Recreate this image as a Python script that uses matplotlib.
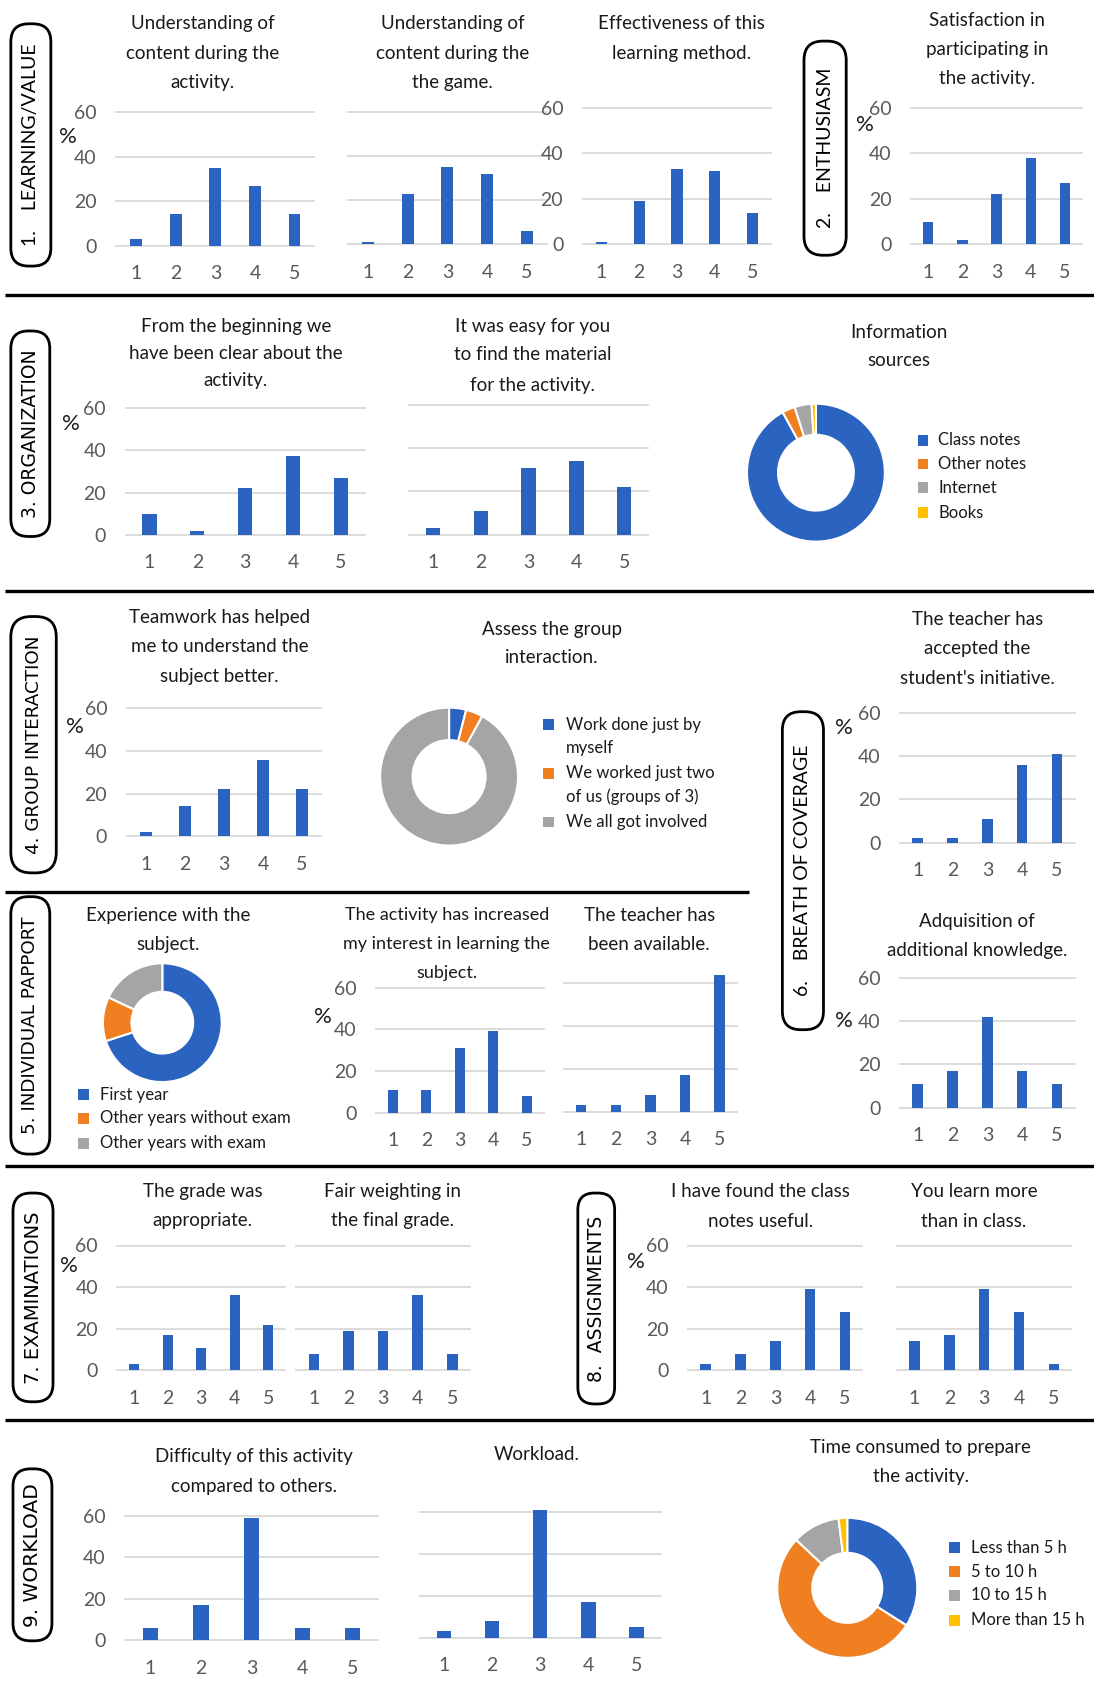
import matplotlib
matplotlib.use('Agg')
import matplotlib.pyplot as plt
from matplotlib.patches import FancyBboxPatch, Rectangle

plt.rcParams['font.family'] = ['Lato', 'DejaVu Sans']

# ---------------- data ----------------
categories = ['1', '2', '3', '4', '5']
understanding_activity = [3, 14, 35, 27, 14]
understanding_game = [1, 23, 35, 32, 6]
effectiveness = [1, 19, 33, 32, 14]
satisfaction = [10, 2, 22, 38, 27]
clear_from_beginning = [10, 2, 22, 37, 27]
easy_material = [3, 11, 31, 34, 22]
teamwork = [2, 14, 22, 36, 22]
teacher_initiative = [2, 2, 11, 36, 41]
interest_increased = [11, 11, 31, 39, 8]
teacher_available = [3, 3, 8, 17, 64]
additional_knowledge = [11, 17, 42, 17, 11]
grade_appropriate = [3, 17, 11, 36, 22]
fair_weighting = [8, 19, 19, 36, 8]
notes_useful = [3, 8, 14, 39, 28]
learn_more = [14, 17, 39, 28, 3]
difficulty = [6, 17, 59, 6, 6]
workload = [3, 8, 61, 17, 5]
y_ticks = [0, 20, 40, 60]

info_labels = ['Class notes', 'Other notes', 'Internet', 'Books']
info_values = [92, 3, 4, 1]
group_labels = ['Work done just by\nmyself', 'We worked just two\nof us (groups of 3)', 'We all got involved']
group_values = [4, 4, 92]
experience_labels = ['First year', 'Other years without exam', 'Other years with exam']
experience_values = [70, 12, 18]
time_labels = ['Less than 5 h', '5 to 10 h', '10 to 15 h', 'More than 15 h']
time_values = [34, 53, 11, 2]

# ---------------- style ----------------
BLUE = '#2B63C1'
ORANGE = '#F07F22'
GRAY = '#A5A5A5'
YELLOW = '#FFC000'
TXT = '#1a1a1a'
TICK = '#595959'
GRID = '#D9D9D9'
donut_colors = [BLUE, ORANGE, GRAY, YELLOW]

W, H = 1011, 1568
fig = plt.figure(figsize=(10.94, 16.96), dpi=100)
fig.patch.set_facecolor('white')

ov = fig.add_axes([0, 0, 1, 1])
ov.set_xlim(0, W)
ov.set_ylim(H, 0)
ov.axis('off')


def fx(x):
    return x / W


def fy(y):
    return 1 - y / H


def title(lines, cx, ys, fs=13.5):
    for line, y in zip(lines, ys):
        ov.text(cx, y, line, ha='center', va='center', fontsize=fs, color=TXT)


def bar_panel(vals, left, right, y60, y0, show_y=True, pct=None):
    ax = fig.add_axes([fx(left), fy(y0), (right - left) / W, (y0 - y60) / H])
    xs = list(range(1, 6))
    ax.bar(xs, vals, width=0.3, color=BLUE, zorder=3, clip_on=False)
    ax.set_xlim(0.5, 5.5)
    ax.set_ylim(0, 60)
    ax.set_yticks(y_ticks)
    ax.set_xticks(xs)
    ax.set_xticklabels(categories)
    for v in y_ticks:
        ax.axhline(v, color=GRID, lw=1.3, zorder=1, clip_on=False)
    for s in ax.spines.values():
        s.set_visible(False)
    ax.tick_params(length=0, labelsize=14, colors=TICK, pad=14)
    if not show_y:
        ax.tick_params(axis='y', labelleft=False)
    ax.patch.set_alpha(0)
    if pct is not None:
        ov.text(pct[0], pct[1], '%', ha='center', va='center', fontsize=16, color=TXT)
    return ax


def donut(vals, cx, cy, r, width):
    ax = fig.add_axes([fx(cx - r), fy(cy + r), 2 * r / W, 2 * r / H])
    wedges, _ = ax.pie(vals, colors=donut_colors[:len(vals)], startangle=90, counterclock=False,
                       wedgeprops=dict(width=width, edgecolor='white', linewidth=1.5))
    ax.set_xlim(-1.02, 1.02)
    ax.set_ylim(-1.02, 1.02)
    ax.axis('off')
    return wedges


def legend(wedges, labels, sx, tx, ys, fs=12, pitch=22):
    for w, lab, y in zip(wedges, labels, ys):
        ov.add_patch(Rectangle((sx - 5, y - 5), 10, 10, color=w.get_facecolor(), lw=0))
        for k, part in enumerate(lab.split('\n')):
            ov.text(tx, y + k * pitch, part, ha='left', va='center', fontsize=fs, color=TXT)


# ---------------- section boxes ----------------
sections = [
    ('1.    LEARNING/VALUE', 10, 47, 22, 246, 'Lato', 14),
    ('2.    ENTHUSIASM', 743, 782, 38, 236, 'Lato', 14),
    ('3. ORGANIZATION', 10, 46, 306, 496, 'DejaVu Sans', 13.5),
    ('4. GROUP INTERACTION', 10, 52, 570, 807, 'DejaVu Sans', 13.2),
    ('5. INDIVIDUAL PAPPORT', 10, 46, 829, 1067, 'DejaVu Sans', 13.2),
    ('6.    BREATH OF COVERAGE', 723, 761, 658, 952, 'Lato', 14),
    ('7. EXAMINATIONS', 12, 49, 1103, 1296, 'DejaVu Sans', 14),
    ('8.  ASSIGNMENTS', 534, 568, 1103, 1298, 'DejaVu Sans', 13.5),
    ('9. WORKLOAD', 12, 48, 1358, 1517, 'DejaVu Sans', 14.5),
]
for lab, x0, x1, y0, y1, fam, fs in sections:
    w = x1 - x0
    ov.add_patch(FancyBboxPatch((x0, y0), w, y1 - y0,
                                boxstyle='round,pad=0,rounding_size=%f' % (w * 0.45),
                                fc='white', ec='black', lw=2.0))
    ov.text((x0 + x1) / 2, (y0 + y1) / 2, lab, rotation=90, ha='center', va='center',
            fontsize=fs, family=fam, color='black')

# ---------------- separators ----------------
for y, x1 in [(273, 1011), (546, 1011), (825, 692), (1078, 1011), (1313, 1011)]:
    ov.plot([5, x1], [y, y], color='black', lw=2.4, solid_capstyle='butt')

# ---------------- row 1 ----------------
title(['Understanding of', 'content during the', 'activity.'], 187, [22, 49, 76])
bar_panel(understanding_activity, 107.5, 290.5, 104, 227, True, (63, 127))
title(['Understanding of', 'content during the', 'the game.'], 418, [22, 49, 76])
bar_panel(understanding_game, 321.5, 505.5, 103.5, 226, False)
title(['Effectiveness of this', 'learning method.'], 630, [22, 49])
bar_panel(effectiveness, 538.5, 712.5, 99.5, 226, True)
title(['Satisfaction in', 'participating in', 'the activity.'], 912, [19, 46, 73])
bar_panel(satisfaction, 842, 1000, 99.5, 226, True, (799, 116))

# ---------------- row 2 ----------------
title(['From the beginning we', 'have been clear about the', 'activity.'], 218, [302, 327, 352])
bar_panel(clear_from_beginning, 116, 337, 377, 494.5, True, (66, 392))
title(['It was easy for you', 'to find the material', 'for the activity.'], 492, [302, 328, 356])
bar_panel(easy_material, 378, 599, 374, 494.5, False)
title(['Information', 'sources'], 831, [307, 333])
w = donut(info_values, 754, 437, 65, 0.45)
legend(w, info_labels, 853, 867, [407, 429, 451, 474])

# ---------------- row 3 ----------------
title(['Teamwork has helped', 'me to understand the', 'subject better.'], 203, [571, 598, 625])
bar_panel(teamwork, 117, 297, 655, 773, True, (69, 672))
title(['Assess the group', 'interaction.'], 510, [582, 608])
w = donut(group_values, 415, 718, 65, 0.47)
legend(w, group_labels, 507, 523, [670, 715, 760], fs=12, pitch=22)
title(['The teacher has', 'accepted the', "student's initiative."], 903, [573, 600, 627])
bar_panel(teacher_initiative, 832, 993, 659, 779, True, (780, 673))

# ---------------- row 4 ----------------
title(['Experience with the', 'subject.'], 155, [846, 873])
w = donut(experience_values, 150, 945.5, 56, 0.48)
legend(w, experience_labels, 77, 92, [1012, 1034, 1057])
title(['The activity has increased', 'my interest in learning the', 'subject.'], 413, [846, 873, 900], fs=13)
bar_panel(interest_increased, 347.5, 502.5, 913, 1029, True, (298, 940))
title(['The teacher has', 'been available.'], 600, [846, 873])
bar_panel(teacher_available, 521, 681, 909, 1028, False)
title(['Adquisition of', 'additional knowledge.'], 903, [852, 879])
bar_panel(additional_knowledge, 832, 993, 904, 1024, True, (780, 944))

# ---------------- row 5 ----------------
title(['The grade was', 'appropriate.'], 187, [1102, 1128])
bar_panel(grade_appropriate, 108.5, 263.5, 1151.5, 1267, True, (64, 1170))
title(['Fair weighting in', 'the final grade.'], 363, [1102, 1128])
bar_panel(fair_weighting, 274, 434, 1151.5, 1267, False)
title(['I have found the class', 'notes useful.'], 703, [1102, 1129])
bar_panel(notes_useful, 636, 797, 1151.5, 1267, True, (588, 1167))
title(['You learn more', 'than in class.'], 900, [1102, 1129])
bar_panel(learn_more, 829, 990, 1151.5, 1267, False)

# ---------------- row 6 ----------------
title(['Difficulty of this activity', 'compared to others.'], 235, [1347, 1374])
bar_panel(difficulty, 115.5, 349.5, 1401.5, 1516.5, True)
title(['Workload.'], 496, [1345])
bar_panel(workload, 388, 610.5, 1398, 1514, False)
title(['Time consumed to prepare', 'the activity.'], 851, [1338, 1365])
w = donut(time_values, 783, 1468, 66, 0.5)
legend(w, time_labels, 882, 897, [1431, 1453, 1475, 1498])

fig.savefig('out.png', dpi=100, facecolor='white')
